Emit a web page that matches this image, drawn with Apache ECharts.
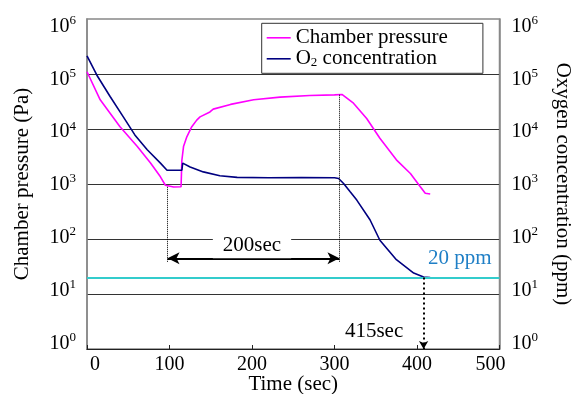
<!DOCTYPE html>
<html>
<head>
<meta charset="utf-8">
<script src="https://cdn.jsdelivr.net/npm/echarts@6/dist/echarts.min.js"></script>
<style>
html, body { margin: 0; padding: 0; background: #fff; }
#main { width: 582px; height: 394px; }
</style>
</head>
<body>
<div id="main"></div>
<script>
// chamber pressure (Pa)
const timePressure = [0, 16, 40, 61, 77, 89, 95, 97, 105, 114, 115, 117, 121, 127, 133, 137, 149, 153, 174, 202, 234, 270, 300, 309, 323, 339, 355, 375, 392, 404, 410, 416];
const chamberPressure = [110000, 33900, 11000, 4800, 2400, 1350, 950, 900, 880, 890, 2700, 4800, 7200, 11000, 14500, 16600, 20400, 23000, 28000, 34000, 38000, 40700, 41700, 42500, 29500, 15500, 6800, 2750, 1550, 890, 680, 660];

// O2 concentration (ppm)
const timeO2 = [0, 12, 28, 44, 58, 73, 89, 97, 115, 116, 125, 141, 161, 182, 220, 260, 300, 305, 311, 313, 319, 327, 343, 355, 375, 396, 408, 416];
const o2Conc = [214000, 95000, 39000, 16600, 7800, 4200, 2400, 1780, 1780, 2400, 2040, 1660, 1410, 1320, 1300, 1310, 1300, 1260, 1020, 950, 720, 510, 224, 95, 42, 24, 20.4, 20];

const xTicks = [0, 100, 200, 300, 400, 500];
const targetPpm = 20;

// annotations
const guideTimes = [97.6, 306];
const guideTops = [890, 42000];
const guideBottom = 38;
const arrowLevel = 44.6;
const hitTime = 408;
const hitBottom = 1;
const noteTexts = ['200sec', '415sec', '20 ppm'];
const noteTimes = [200, 348, 452];
const noteLevels = [74, 2.07, 43];
const noteColors = ['#000', '#000', '#1f7fc6'];

const serif = "'Liberation Serif', 'Times New Roman', serif";

function powLabel(v) {
  const e = Math.log10(v);
  if (Math.abs(e - Math.round(e)) > 0.01) return '';
  return '{b|10}{s|' + Math.round(e) + '}';
}
const powRich = {
  b: { fontSize: 20, fontFamily: serif, color: '#000' },
  s: { fontSize: 13, fontFamily: serif, color: '#000', padding: [0, 0, 12, 0] }
};

// first and last time labels sit a bit inward in the original
function timeLabel(v) {
  if (v === xTicks[0]) return '{l|' + v + '}';
  if (v === xTicks[xTicks.length - 1]) return '{r|' + v + '}';
  return '' + v;
}

let chart = echarts.init(document.getElementById('main'));

let option = {
  animation: false,
  grid: {
    left: 87, right: 82.5, top: 19, bottom: 45,
    outerBoundsMode: 'none', containLabel: false,
    show: true, borderColor: '#888', borderWidth: 1.5
  },
  legend: {
    left: 261.7, top: 23.3, orient: 'vertical',
    icon: 'rect', itemGap: 0, itemWidth: 24, itemHeight: 1.6,
    padding: [4, 35, 4, 5],
    backgroundColor: '#fff', borderColor: '#333', borderWidth: 1, z: 10,
    formatter: function (name) {
      if (name === 'O2 concentration') return '{a|O}{sub|2}{a| concentration}';
      return '{a|' + name + '}';
    },
    textStyle: {
      rich: {
        a: { fontSize: 21, fontFamily: serif, color: '#000', lineHeight: 22 },
        sub: { fontSize: 13, fontFamily: serif, color: '#000', padding: [8, 0, 0, 0] }
      }
    }
  },
  xAxis: {
    type: 'value', min: xTicks[0], max: xTicks[xTicks.length - 1], interval: 100,
    name: 'Time (sec)', nameLocation: 'middle', nameGap: 25, nameMoveOverlap: false,
    nameTextStyle: { fontSize: 21, fontFamily: serif, color: '#000' },
    axisLine: { onZero: false, lineStyle: { color: '#222', width: 1 } },
    axisTick: { inside: true, length: 4, lineStyle: { color: '#222' } },
    axisLabel: {
      fontSize: 20, fontFamily: serif, color: '#000', margin: 6,
      formatter: timeLabel,
      rich: {
        l: { fontSize: 20, fontFamily: serif, color: '#000', padding: [0, 0, 0, 16] },
        r: { fontSize: 20, fontFamily: serif, color: '#000', padding: [0, 18, 0, 0] }
      }
    },
    splitLine: { show: false }
  },
  yAxis: [
    {
      // pressure scale with grid lines
      type: 'log', logBase: 10, min: 1, max: 1e6, position: 'left',
      name: 'Chamber pressure (Pa)', nameLocation: 'middle', nameRotate: 90, nameGap: 54, nameMoveOverlap: false,
      nameTextStyle: { fontSize: 21, fontFamily: serif, color: '#000' },
      axisLine: { show: true, onZero: false, lineStyle: { color: '#888', width: 1.5 } },
      axisTick: { show: false },
      axisLabel: { show: false },
      splitLine: { show: true, showMinLine: false, showMaxLine: false, lineStyle: { color: '#333', width: 1 } }
    },
    {
      // oxygen scale
      type: 'log', logBase: 10, min: 1, max: 1e6, position: 'right',
      name: 'Oxygen concentration (ppm)', nameLocation: 'middle', nameRotate: -90, nameGap: 53, nameMoveOverlap: false,
      nameTextStyle: { fontSize: 21, fontFamily: serif, color: '#000' },
      axisLine: { show: true, onZero: false, lineStyle: { color: '#888', width: 1.5 } },
      axisTick: { show: false },
      axisLabel: { show: false },
      splitLine: { show: false }
    },
    {
      // tick labels only, they sit a little off the grid lines in the original
      type: 'log', logBase: 10, min: 0.787, max: 1.387e6, position: 'left',
      axisLine: { show: false, onZero: false }, axisTick: { show: false }, splitLine: { show: false },
      axisLabel: { margin: 11, formatter: powLabel, rich: powRich }
    },
    {
      type: 'log', logBase: 10, min: 0.787, max: 1.387e6, position: 'right',
      axisLine: { show: false, onZero: false }, axisTick: { show: false }, splitLine: { show: false },
      axisLabel: { margin: 12, formatter: powLabel, rich: powRich }
    }
  ],
  series: [
    {
      name: 'Chamber pressure', type: 'line', yAxisIndex: 0, symbol: 'none',
      data: timePressure.map((t, i) => [t, chamberPressure[i]]),
      lineStyle: { color: '#ff00ff', width: 1.6 }, itemStyle: { color: '#ff00ff' },
      z: 3,
      markLine: {
        silent: true, symbol: ['none', 'none'], label: { show: false },
        lineStyle: { color: '#000', type: 'dotted', width: 1 },
        data: [
          [{ coord: [guideTimes[0], guideTops[0]] }, { coord: [guideTimes[0], guideBottom] }],
          [{ coord: [guideTimes[1], guideTops[1]] }, { coord: [guideTimes[1], guideBottom] }],
          [
            { coord: [guideTimes[0], arrowLevel], symbol: 'arrow', symbolSize: [9, 12], lineStyle: { type: 'solid', width: 2 } },
            { coord: [guideTimes[1], arrowLevel], symbol: 'arrow', symbolSize: [9, 12] }
          ]
        ]
      },
      markPoint: {
        silent: true, symbolSize: 1, itemStyle: { color: 'transparent' },
        data: noteTexts.map((txt, i) => ({
          coord: [noteTimes[i], noteLevels[i]],
          label: {
            show: true, position: 'inside', formatter: txt, fontSize: 21, fontFamily: serif,
            color: noteColors[i],
            backgroundColor: i === 0 ? '#fff' : 'transparent',
            padding: i === 0 ? [2, 10, 2, 10] : 0
          }
        }))
      }
    },
    {
      name: 'O2 concentration', type: 'line', yAxisIndex: 1, symbol: 'none',
      data: timeO2.map((t, i) => [t, o2Conc[i]]),
      lineStyle: { color: '#000080', width: 1.6 }, itemStyle: { color: '#000080' },
      z: 4,
      markLine: {
        silent: true, symbol: ['none', 'none'], label: { show: false },
        data: [
          { yAxis: targetPpm, lineStyle: { color: '#33cccc', width: 2, type: 'solid' } },
          [
            { coord: [hitTime, targetPpm], lineStyle: { color: '#000', width: 2, type: [2, 3] } },
            { coord: [hitTime, hitBottom], symbol: 'arrow', symbolSize: [7, 8] }
          ]
        ]
      }
    }
  ]
};

chart.setOption(option);
</script>
</body>
</html>
